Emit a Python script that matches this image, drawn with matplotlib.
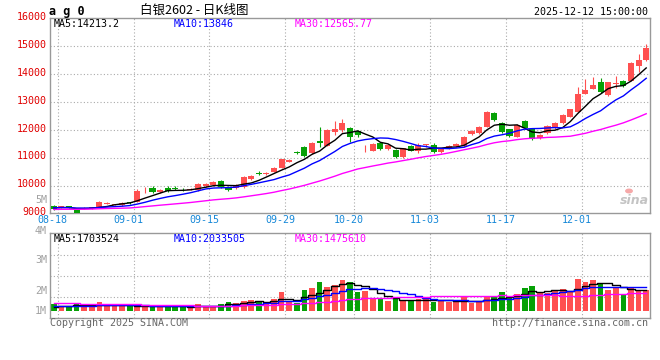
import numpy as np
import pandas as pd
import matplotlib
matplotlib.use("Agg")
import matplotlib.pyplot as plt

W, H = 660, 360

# daily bars for ag2602, 08-18 .. 12-12 (79 trading days)
open_ = [9290, 9225, 9290, 9200, 9185, 9210, 9225, 9370, 9335, 9305,
         9425, 9440, 9840, 9915, 9796, 9939, 9939, 9890, 9870, 9855,
         10000, 10035, 10178, 9951, 9915, 9951, 10250, 10477, 10440, 10513,
         10656, 10871, 11230, 11409, 11194, 11624, 11445, 11947, 12007, 12066,
         11983, 11420, 11265, 11552, 11313, 11290, 11026, 11433, 11265, 11460,
         11469, 11230, 11349, 11433, 11433, 11863, 11911, 12126, 12628, 12269,
         12030, 11767, 12341, 12030, 11732, 11887, 12066, 12246, 12485, 12663,
         13297, 13476, 13715, 13261, 13655, 13763, 13775, 14313, 14516]
high = [9310, 9300, 9300, 9210, 9230, 9240, 9450, 9410, 9370, 9420,
        9440, 9880, 9950, 10000, 9880, 9990, 9990, 9940, 9920, 10090,
        10100, 10180, 10200, 9990, 10060, 10360, 10400, 10520, 10500, 10680,
        10980, 10960, 11260, 11440, 11580, 12102, 12030, 12341, 12389, 12100,
        12000, 11480, 11530, 11580, 11500, 11310, 11370, 11460, 11530, 11520,
        11540, 11380, 11460, 11530, 11790, 12020, 12160, 12700, 12650, 12305,
        12060, 12210, 12380, 12060, 11850, 12180, 12290, 12570, 12770, 13560,
        13823, 13918, 13882, 13740, 13942, 13790, 14456, 14719, 15078]
low = [9150, 9200, 9210, 9040, 9170, 9190, 9215, 9350, 9320, 9290,
       9370, 9420, 9760, 9736, 9760, 9790, 9850, 9830, 9840, 9830,
       9980, 10010, 9930, 9830, 9890, 9930, 10220, 10380, 10400, 10490,
       10630, 10850, 11130, 11030, 11160, 11409, 11420, 11827, 11947, 11588,
       11744, 11230, 11240, 11290, 11290, 11020, 11000, 11240, 11200, 11400,
       11200, 11200, 11330, 11410, 11410, 11830, 11880, 12100, 12340, 11887,
       11760, 11740, 12030, 11650, 11700, 11860, 12040, 12220, 12460, 12640,
       13280, 13460, 13320, 13225, 13500, 13560, 13750, 14073, 14480]
close = [9170, 9290, 9225, 9050, 9220, 9235, 9440, 9385, 9350, 9400,
         9390, 9830, 9860, 9796, 9855, 9820, 9880, 9875, 9885, 10070,
         10070, 10155, 9951, 9855, 10035, 10334, 10370, 10417, 10460, 10656,
         10955, 10931, 11170, 11074, 11552, 11529, 12007, 12030, 12269, 11744,
         11827, 11440, 11505, 11313, 11469, 11050, 11349, 11265, 11469, 11475,
         11230, 11349, 11433, 11505, 11767, 11971, 12126, 12664, 12365, 11947,
         11791, 12186, 12066, 11684, 11827, 12150, 12269, 12544, 12747, 13297,
         13440, 13620, 13380, 13715, 13700, 13584, 14420, 14516, 14934]
# volume, million lots
volume = [0.54, 0.40, 0.40, 0.62, 0.40, 0.40, 0.76, 0.40, 0.40, 0.40,
          0.40, 0.40, 0.34, 0.48, 0.34, 0.48, 0.34, 0.34, 0.20, 0.59,
          0.40, 0.40, 0.56, 0.73, 0.65, 0.82, 0.90, 0.82, 0.65, 0.99,
          1.58, 0.76, 0.68, 1.75, 1.92, 2.43, 2.03, 2.18, 2.60, 2.43,
          1.61, 1.69, 0.96, 0.96, 0.85, 1.05, 0.85, 0.90, 0.96, 0.96,
          0.76, 0.90, 0.76, 0.76, 1.13, 0.62, 0.76, 1.13, 1.13, 1.61,
          1.05, 1.41, 1.95, 2.12, 1.53, 1.47, 1.69, 1.84, 1.67, 2.68,
          2.46, 2.60, 2.26, 1.75, 2.03, 1.33, 1.89, 1.69, 1.75]

# sessions before the window, only used to seed the moving averages
pre_close = [9150, 9180, 9120, 9090, 9060, 9100, 9140, 9180, 9210, 9170,
             9130, 9090, 9050, 9080, 9120, 9160, 9150, 9130, 9140, 9150,
             9210, 9240, 9230, 9220, 9240, 9210, 9230, 9220, 9230]
pre_volume = [0.74, 0.78, 0.82, 0.70, 0.75, 0.80, 0.72, 0.76, 0.74, 0.70,
              0.78, 0.74, 0.72, 0.80, 0.76, 0.70, 0.74, 0.78, 0.72, 0.75,
              0.50, 0.55, 0.48, 0.52, 0.50, 0.30, 0.28, 0.32, 0.30]

tick_pos = [0, 10, 20, 30, 39, 49, 59, 69]
tick_labels = ["08-18", "09-01", "09-15", "09-29", "10-20", "11-03", "11-17", "12-01"]
price_grid = [10000, 11000, 12000, 13000, 14000, 15000]
price_labels = [9000, 10000, 11000, 12000, 13000, 14000, 15000, 16000]

RED = "#ff5050"
GREEN = "#06a106"
GRID = "#aaaaaa"
FRAME = "#999999"
MONO = "DejaVu Sans Mono"
CJK = ["Noto Sans CJK SC", "DejaVu Sans"]


def fx(px):
    return px / W


def fy(py):
    return 1 - py / H


def moving(pre, vals, n):
    s = pd.Series(list(pre) + list(vals)).rolling(n).mean()
    return s.to_numpy()[len(pre):]


def frame(ax):
    ax.set_xticks([])
    ax.set_yticks([])
    for sp in ax.spines.values():
        sp.set_color(FRAME)
        sp.set_linewidth(1.0)
    for p in tick_pos:
        ax.axvline(p + 0.5, color=GRID, lw=0.8, ls=(0, (1, 2)), zorder=0)


o = np.array(open_)
c = np.array(close)
x = np.arange(len(c))
up = c >= o
colors = np.where(up, RED, GREEN)

fig = plt.figure(figsize=(W / 100, H / 100), dpi=100)
ax = fig.add_axes([fx(50), fy(213.3), fx(600), 195.3 / H])
axv = fig.add_axes([fx(50), fy(318.3), fx(600), 85 / H])

# price panel
frame(ax)
ax.set_xlim(-0.5, len(c) - 0.5)
ax.set_ylim(9022, 16021)
for g in price_grid:
    ax.axhline(g, color=GRID, lw=0.8, ls=(0, (1, 2)), zorder=0)

ax.vlines(x, low, high, color=colors, lw=0.8, zorder=2)
ax.bar(x, np.maximum(np.abs(c - o), 30), bottom=np.minimum(o, c),
       width=0.8, color=colors, linewidth=0, zorder=3)

ax.plot(x, moving(pre_close, close, 5), color="black", lw=1.0, zorder=4)
ax.plot(x, moving(pre_close, close, 10), color="#0000ff", lw=1.0, zorder=4)
ax.plot(x, moving(pre_close, close, 30), color="#ff00ff", lw=1.0, zorder=4)

tr = ax.get_yaxis_transform()
for v in price_labels:
    ax.text(-0.006, v + 60, str(v), transform=tr, ha="right", va="center",
            color="#e00000", fontsize=7.2, family=MONO, clip_on=False)

for p, lab in zip(tick_pos, tick_labels):
    ax.text(p - 0.2, 8780, lab, ha="center", va="center", color="#1688d8",
            fontsize=7.2, family=MONO, clip_on=False)

# volume panel
frame(axv)
axv.set_xlim(-0.5, len(c) - 0.5)
vlo, vhi = -0.644, 6.56
axv.set_ylim(vlo, vhi)
for f in (0.25, 0.5, 0.75):
    axv.axhline(vlo + f * (vhi - vlo), color=GRID, lw=0.8, ls=(0, (1, 2)), zorder=0)
axv.bar(x, volume, width=0.75, color=colors, linewidth=0, zorder=2)
axv.plot(x, moving(pre_volume, volume, 5), color="black", lw=1.0,
         drawstyle="steps-mid", zorder=3)
axv.plot(x, moving(pre_volume, volume, 10), color="#0000ff", lw=1.0,
         drawstyle="steps-mid", zorder=3)
axv.plot(x, moving(pre_volume, volume, 30), color="#ff00ff", lw=1.0,
         drawstyle="steps-mid", zorder=3)

# texts
fig.text(fx(49), fy(11), "a g 0", fontsize=8.5, family=MONO, weight="bold",
         va="center", ha="left")
fig.text(fx(140), fy(10.5), "白银2602 - 日K线图", fontsize=9, family=CJK,
         va="center", ha="left")
fig.text(fx(648), fy(12), "2025-12-12 15:00:00", fontsize=7.2, family=MONO,
         va="center", ha="right")

fig.text(fx(54), fy(24), "MA5:14213.2", fontsize=7.2, family=MONO, color="black", va="center")
fig.text(fx(174), fy(24), "MA10:13846", fontsize=7.2, family=MONO, color="#0000ff", va="center")
fig.text(fx(295), fy(24), "MA30:12565.77", fontsize=7.2, family=MONO, color="#ff00ff", va="center")
fig.text(fx(54), fy(238.5), "MA5:1703524", fontsize=7.2, family=MONO, color="black", va="center")
fig.text(fx(174), fy(238.5), "MA10:2033505", fontsize=7.2, family=MONO, color="#0000ff", va="center")
fig.text(fx(295), fy(238.5), "MA30:1475610", fontsize=7.2, family=MONO, color="#ff00ff", va="center")

for lab, py in [("5M", 200), ("4M", 231), ("3M", 260), ("2M", 290.5), ("1M", 310.5)]:
    fig.text(fx(47), fy(py), lab, fontsize=7.2, family=MONO, color="#a0a0a0",
             ha="right", va="center")

fig.text(fx(50), fy(323.5), "Copyright 2025 SINA.COM", fontsize=7.2, family=MONO,
         color="#666666", va="center")
fig.text(fx(648), fy(323.5), "http://finance.sina.com.cn", fontsize=7.2, family=MONO,
         color="#666666", va="center", ha="right")

# sina watermark
fig.text(fx(634), fy(201), "sina", fontsize=9, style="italic", weight="bold",
         color="#c4c4c4", ha="center", va="center")
fig.patches.append(plt.Circle((fx(629), fy(191)), 3.2 / W, color="#f6a8a8",
                              transform=fig.transFigure, figure=fig))

fig.savefig("out.png", dpi=100)
